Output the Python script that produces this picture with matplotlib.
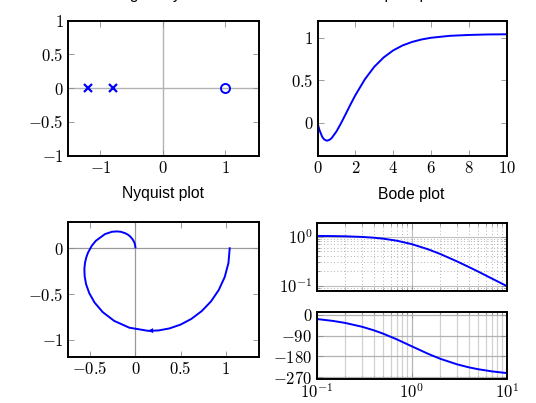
import numpy as np
import matplotlib
matplotlib.use('Agg')
import matplotlib.pyplot as plt
from matplotlib.ticker import NullFormatter, LogLocator

plt.rcParams['mathtext.fontset'] = 'cm'
plt.rcParams['font.family'] = ['DejaVu Serif']

# poles / zeros
pole_re = [-1.2, -0.8]
pole_im = [0.0, 0.0]
zero_re = [1.0]
zero_im = [0.0]

# step response
t = [0, 0.05, 0.1, 0.25, 0.35, 0.5, 0.65, 0.75, 1.0, 1.25, 1.5, 1.75, 2.0, 2.5,
     3.0, 3.5, 4.0, 4.5, 5.0, 5.5, 6.0, 7.0, 8.0, 9.0, 10.0]
y = [0, -0.046, -0.086, -0.168, -0.198, -0.214, -0.201, -0.182, -0.105, -0.005,
     0.105, 0.216, 0.322, 0.509, 0.657, 0.768, 0.850, 0.909, 0.950, 0.979,
     0.999, 1.022, 1.032, 1.038, 1.040]

# nyquist
nyq_re = [1.042, 1.028, 0.987, 0.921, 0.835, 0.732, 0.618, 0.497, 0.375, 0.255,
          0.140, -0.067, -0.234, -0.361, -0.451, -0.510, -0.545, -0.561, -0.564,
          -0.557, -0.543, -0.525, -0.482, -0.437, -0.336, -0.259, -0.203, -0.162,
          -0.109, -0.078, -0.058, -0.029, -0.013, -0.0075, -0.0033, -0.0003]
nyq_im = [0.0, -0.160, -0.313, -0.455, -0.580, -0.686, -0.771, -0.834, -0.875, -0.897,
          -0.901, -0.867, -0.793, -0.697, -0.593, -0.490, -0.393, -0.305, -0.226,
          -0.158, -0.100, -0.050, 0.028, 0.082, 0.155, 0.180, 0.184, 0.180,
          0.163, 0.145, 0.129, 0.095, 0.065, 0.049, 0.033, 0.010]
arrow_idx = 9

# bode
w = [0.1, 0.15, 0.2, 0.3, 0.4, 0.5, 0.7, 1.0, 1.5, 2.0, 3.0, 4.0, 5.0, 7.0, 10.0]
mag = [1.035, 1.027, 1.017, 0.988, 0.952, 0.912, 0.827, 0.707, 0.552, 0.445,
       0.315, 0.242, 0.196, 0.141, 0.0995]
phase = [-17.6, -26.3, -34.8, -51.3, -66.8, -81.2, -106.4, -136.2, -169.6,
         -190.7, -214.8, -228.0, -236.1, -245.6, -252.9]

W, H = 536, 403
fig = plt.figure(figsize=(W / 100, H / 100), dpi=100)


def box(l, r, top, bot):
    return [l / W, 1 - bot / H, (r - l) / W, (bot - top) / H]


ax1 = fig.add_axes(box(68, 258.5, 20.7, 155.7))
ax2 = fig.add_axes(box(317.5, 506.7, 20.7, 155.7))
ax3 = fig.add_axes(box(68, 258.5, 221.7, 357.3))
ax4 = fig.add_axes(box(316.5, 506.7, 222.7, 290.7))
ax5 = fig.add_axes(box(316.5, 506.7, 311.7, 379.3))

blue = (0, 0, 1)
tsize = 12
title_kw = dict(family='Liberation Sans', fontsize=11.3)


def style(ax):
    for s in ax.spines.values():
        s.set_linewidth(1.4)
    ax.tick_params(which='both', direction='in', top=True, right=True,
                   color='0.55', width=0.6, labelsize=tsize, pad=3)
    ax.tick_params(which='major', length=4.5)
    ax.tick_params(which='minor', length=2.5)


def labels(vals):
    return [r'$%g$' % v for v in vals]


# pole-zero map
ax1.axhline(0, color='0.7', lw=1.0, zorder=0)
ax1.axvline(0, color='0.7', lw=1.0, zorder=0)
ax1.plot(pole_re, pole_im, 'x', color=blue, ms=6, mew=1.6)
ax1.plot(zero_re, zero_im, 'o', color=blue, mfc='none', ms=6.5, mew=1.4)
ax1.set_xlim(-1.52, 1.53)
ax1.set_ylim(-1, 1)
ax1.set_xticks([-1, 0, 1])
ax1.set_xticklabels(labels([-1, 0, 1]))
ax1.set_yticks([-1, -0.5, 0, 0.5, 1])
ax1.set_yticklabels(labels([-1, -0.5, 0, 0.5, 1]))
style(ax1)
ax1.set_title('Singularity chart', pad=15.3, **title_kw)

# step response
ax2.plot(t, y, color=blue, lw=1.4)
ax2.set_xlim(0, 10)
ax2.set_ylim(-0.39, 1.2)
ax2.set_xticks([0, 2, 4, 6, 8, 10])
ax2.set_xticklabels(labels([0, 2, 4, 6, 8, 10]))
ax2.set_yticks([0, 0.5, 1])
ax2.set_yticklabels(labels([0, 0.5, 1]))
style(ax2)
ax2.set_title('Step response', pad=15.3, **title_kw)

# nyquist
ax3.axhline(0, color='0.6', lw=0.9, zorder=0)
ax3.axvline(0, color='0.6', lw=0.9, zorder=0)
ax3.plot(nyq_re, nyq_im, color=blue, lw=1.4)
ax3.annotate('', xy=(nyq_re[arrow_idx + 1], nyq_im[arrow_idx + 1]),
             xytext=(nyq_re[arrow_idx], nyq_im[arrow_idx]),
             arrowprops=dict(arrowstyle='-|>', color=blue, lw=0.01,
                             mutation_scale=9, shrinkA=0, shrinkB=0))
ax3.set_xlim(-0.745, 1.36)
ax3.set_ylim(-1.19, 0.29)
ax3.set_xticks([-0.5, 0, 0.5, 1])
ax3.set_xticklabels(labels([-0.5, 0, 0.5, 1]))
ax3.set_yticks([-1, -0.5, 0])
ax3.set_yticklabels(labels([-1, -0.5, 0]))
style(ax3)
ax3.set_title('Nyquist plot', pad=17, **title_kw)

# bode magnitude
ax4.plot(w, mag, color=blue, lw=1.4)
ax4.set_xscale('log')
ax4.set_yscale('log')
ax4.set_xlim(0.1, 10)
ax4.set_ylim(0.08, 1.92)
ax4.set_yticks([0.1, 1])
ax4.set_yticklabels([r'$10^{-1}$', r'$10^{0}$'])
ax4.xaxis.set_minor_locator(LogLocator(subs=np.arange(2, 10)))
ax4.yaxis.set_minor_locator(LogLocator(subs=np.arange(2, 10)))
ax4.xaxis.set_major_formatter(NullFormatter())
ax4.xaxis.set_minor_formatter(NullFormatter())
ax4.yaxis.set_minor_formatter(NullFormatter())
ax4.grid(which='major', color='0.75', lw=0.8)
ax4.grid(which='minor', color='0.6', lw=0.6, ls=(0, (1, 3)))
ax4.set_axisbelow(True)
style(ax4)
ax4.set_title('Bode plot', pad=17, **title_kw)

# bode phase
ax5.plot(w, phase, color=blue, lw=1.4)
ax5.set_xscale('log')
ax5.set_xlim(0.1, 10)
ax5.set_ylim(-280, 14)
ax5.set_yticks([0, -90, -180, -270])
ax5.set_yticklabels(labels([0, -90, -180, -270]))
ax5.set_xticks([0.1, 1, 10])
ax5.set_xticklabels([r'$10^{-1}$', r'$10^{0}$', r'$10^{1}$'])
ax5.xaxis.set_minor_locator(LogLocator(subs=np.arange(2, 10)))
ax5.xaxis.set_minor_formatter(NullFormatter())
ax5.grid(which='major', color='0.7', lw=0.9)
ax5.grid(which='minor', axis='x', color='0.82', lw=0.9)
ax5.set_axisbelow(True)
style(ax5)

fig.savefig('out.png', dpi=100)
